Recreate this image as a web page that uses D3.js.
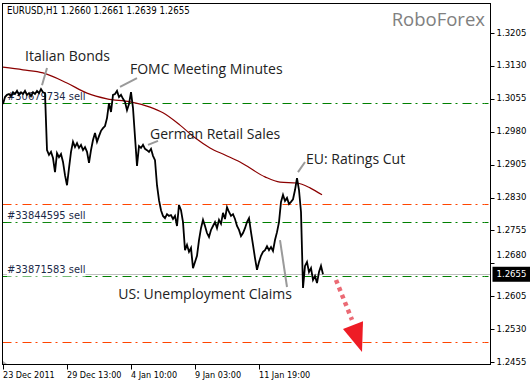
<!DOCTYPE html>
<html>
<head>
<meta charset="utf-8">
<style>
body{margin:0;background:#fff}
svg{display:block}
</style>
</head>
<body>
<div id="chart"></div>
<script src="https://cdn.jsdelivr.net/npm/d3@7"></script>
<script>

// EURUSD H1 closes, one value every 2 bars starting 23 Dec 2011
var closes = [
 1.3043,1.3059,1.3064,1.3066,1.3061,1.3070,1.3066,1.3073,1.3064,1.3070,
 1.3066,1.3073,1.3064,1.3068,1.3061,1.3070,1.3066,1.3073,1.3068,1.3077,
 1.3070,1.3068,1.2938,1.2927,1.2934,1.2920,1.2888,1.2931,1.2922,1.2929,
 1.2911,1.2881,1.2858,1.2897,1.2934,1.2957,1.2945,1.2954,1.2943,1.2950,
 1.2938,1.2945,1.2934,1.2909,1.2938,1.2961,1.2977,1.2957,1.2970,1.2982,
 1.2988,1.2993,1.3011,1.3045,1.3025,1.3064,1.3066,1.3073,1.3059,1.3064,
 1.3055,1.3048,1.3029,1.3043,1.3070,1.3034,1.2968,1.2902,1.2947,1.2943,
 1.2950,1.2941,1.2938,1.2934,1.2941,1.2925,1.2915,1.2858,1.2824,1.2801,
 1.2788,1.2783,1.2792,1.2788,1.2790,1.2781,1.2788,1.2765,1.2813,1.2801,
 1.2774,1.2710,1.2722,1.2706,1.2715,1.2669,1.2683,1.2697,1.2733,1.2760,
 1.2779,1.2765,1.2749,1.2740,1.2756,1.2765,1.2774,1.2760,1.2779,1.2770,
 1.2795,1.2781,1.2808,1.2797,1.2788,1.2792,1.2781,1.2765,1.2756,1.2742,
 1.2749,1.2760,1.2774,1.2783,1.2751,1.2722,1.2692,1.2665,1.2683,1.2697,
 1.2706,1.2710,1.2719,1.2710,1.2717,1.2708,1.2733,1.2751,1.2774,1.2820,
 1.2836,1.2822,1.2829,1.2815,1.2820,1.2826,1.2847,1.2874,1.2847,1.2797,
 1.2624,1.2674,1.2683,1.2660,1.2669,1.2642,1.2651,1.2635,1.2660,1.2674,
 1.2655
]
var closeStep = 2

// moving average (bar, value)
var maBars   = [0, 20, 40, 64, 84, 104, 127, 147, 160, 177, 192, 207, 222, 237, 262, 277, 294, 307, 319]
var maValues = [1.3127, 1.3121, 1.3114, 1.3091, 1.3068, 1.3055, 1.3048, 1.3036, 1.3023, 1.2995,
                1.2966, 1.2943, 1.2927, 1.2911, 1.2877, 1.2865, 1.2863, 1.2852, 1.2836]

var priceTicks = [1.3205, 1.3130, 1.3055, 1.2980, 1.2905, 1.2830, 1.2755, 1.2680, 1.2605, 1.2530, 1.2455]
var timeBars = [0, 64, 128, 192, 256]
var timeLabels = ["23 Dec 2011", "29 Dec 13:00", "4 Jan 10:00", "9 Jan 03:00", "11 Jan 19:00"]

// order levels
var levelPrices = [1.3046, 1.2815, 1.2774, 1.2650, 1.2500]
var levelKinds  = ["sell", "stop", "sell", "sell", "stop"]
var levelLabels = ["#30679734 sell", "", "#33844595 sell", "#33871583 sell", ""]
var lastPrice = 1.2655
var header = "EURUSD,H1  1.2660 1.2661 1.2639 1.2655"

// news annotations: text anchor and pointer line
var newsText   = ["Italian Bonds", "FOMC Meeting Minutes", "German Retail Sales", "EU: Ratings Cut", "US: Unemployment Claims"]
var newsAnchor = ["start", "start", "start", "start", "end"]
var newsBar    = [22, 127, 147, 303, 289]
var newsPrice  = [1.3150, 1.3121, 1.2972, 1.2915, 1.2608]
var ptrBar0    = [39, 117, 145, 295, 277]
var ptrPrice0  = [1.3086, 1.3082, 1.2950, 1.2888, 1.2733]
var ptrBar1    = [44, 134, 155, 302, 284]
var ptrPrice1  = [1.3125, 1.3102, 1.2959, 1.2911, 1.2626]

// forecast arrow
var arrowBars = [333, 349]
var arrowPrices = [1.2642, 1.2551]
var headBars = [340, 360, 359]
var headPrices = [1.2530, 1.2548, 1.2478]

var W = 530, H = 383
var frame = {left: 2.5, top: 3.5, right: 490.5, bottom: 364.5}
var axisFont = "'DejaVu Sans Condensed', 'Liberation Sans', sans-serif"
var noteFont = "'Open Sans', sans-serif"

var svg = d3.select("#chart").append("svg")
    .attr("width", W).attr("height", H)
    .style("background", "#fff")

var x = d3.scaleLinear().domain([0, 487]).range([3, 490])
var y = d3.scaleLinear().domain([1.2455, 1.3205]).range([362, 33])

var levelColor = function(k){ return k == "sell" ? "#008000" : "#ff4500" }

// current price line
svg.append("line")
    .attr("x1", frame.left).attr("x2", frame.right)
    .attr("y1", Math.round(y(lastPrice)) + 0.5).attr("y2", Math.round(y(lastPrice)) + 0.5)
    .attr("stroke", "#c0c0c0").attr("stroke-width", 1)

// level lines
svg.append("g").selectAll("line")
    .data(levelPrices).enter().append("line")
    .attr("x1", frame.left).attr("x2", frame.right - 6)
    .attr("y1", d => Math.round(y(d)) + 0.5).attr("y2", d => Math.round(y(d)) + 0.5)
    .attr("stroke", (d, i) => levelColor(levelKinds[i]))
    .attr("stroke-width", 1)
    .attr("stroke-dasharray", "9,4,2,5")

// small marks at right edge
svg.append("g").selectAll("line")
    .data(levelPrices).enter().append("line")
    .attr("x1", frame.right - 6).attr("x2", frame.right - 2)
    .attr("y1", d => Math.round(y(d)) + 0.5).attr("y2", d => Math.round(y(d)) + 0.5)
    .attr("stroke", (d, i) => levelColor(levelKinds[i]))
    .attr("stroke-width", 1)

// level labels with white background
var lab = svg.append("g").selectAll("g")
    .data(levelPrices).enter().append("g")
    .filter((d, i) => levelLabels[i] != "")
lab.each(function(d){
    var i = levelPrices.indexOf(d)
    var g = d3.select(this)
    var t = g.append("text")
        .attr("x", 7).attr("y", y(d) - 6)
        .attr("dominant-baseline", "middle")
        .attr("font-family", axisFont).attr("font-size", "11px")
        .attr("fill", "#1c2a48")
        .text(levelLabels[i])
    var b = t.node().getBBox()
    g.insert("rect", "text")
        .attr("x", b.x).attr("y", b.y).attr("width", b.width).attr("height", b.height)
        .attr("fill", "#fff")
})

// moving average
var maLine = d3.line()
    .x((d, i) => x(maBars[i]))
    .y(d => y(d))
    .curve(d3.curveMonotoneX)
svg.append("path").datum(maValues)
    .attr("d", maLine)
    .attr("fill", "none").attr("stroke", "#8b0000").attr("stroke-width", 1.2)

// price
var priceLine = d3.line()
    .x((d, i) => x(i * closeStep))
    .y(d => y(d))
svg.append("path").datum(closes)
    .attr("d", priceLine)
    .attr("fill", "none").attr("stroke", "#000").attr("stroke-width", 1.8)
    .attr("stroke-linejoin", "miter")

// news pointers and text
svg.append("g").selectAll("line")
    .data(newsText).enter().append("line")
    .attr("x1", (d, i) => x(ptrBar0[i])).attr("y1", (d, i) => y(ptrPrice0[i]))
    .attr("x2", (d, i) => x(ptrBar1[i])).attr("y2", (d, i) => y(ptrPrice1[i]))
    .attr("stroke", "#9a9a9a").attr("stroke-width", 2)

svg.append("g").selectAll("text")
    .data(newsText).enter().append("text")
    .attr("x", (d, i) => x(newsBar[i])).attr("y", (d, i) => y(newsPrice[i]))
    .attr("text-anchor", (d, i) => newsAnchor[i])
    .attr("dominant-baseline", "middle")
    .attr("font-family", noteFont).attr("font-size", "14px")
    .attr("fill", "#222")
    .text(d => d)

// forecast arrow
svg.append("line")
    .attr("x1", x(arrowBars[0])).attr("y1", y(arrowPrices[0]))
    .attr("x2", x(arrowBars[1])).attr("y2", y(arrowPrices[1]))
    .attr("stroke", "#e8505c").attr("stroke-opacity", 0.85)
    .attr("stroke-width", 4.5).attr("stroke-dasharray", "4,4")
svg.append("polygon")
    .attr("points", headBars.map((b, i) => x(b) + "," + y(headPrices[i])).join(" "))
    .attr("fill", "#ee1c25")

// frame
svg.append("rect")
    .attr("x", frame.left).attr("y", frame.top)
    .attr("width", frame.right - frame.left).attr("height", frame.bottom - frame.top)
    .attr("fill", "none").attr("stroke", "#000").attr("stroke-width", 1)

svg.append("polygon")
    .attr("points", [[3, 361], [3, 364], [7, 364]].join(" "))
    .attr("fill", "#aaa")

// right price axis
var ya = svg.append("g").selectAll("g")
    .data(priceTicks).enter().append("g")
ya.append("line")
    .attr("x1", frame.right).attr("x2", frame.right + 4)
    .attr("y1", d => Math.round(y(d)) + 0.5).attr("y2", d => Math.round(y(d)) + 0.5)
    .attr("stroke", "#000")
ya.append("text")
    .attr("x", frame.right + 6)
    .attr("y", d => y(d) - (Math.abs(d - lastPrice) < 0.003 ? 8 : 0))
    .attr("dominant-baseline", "middle")
    .attr("font-family", axisFont).attr("font-size", "9.5px")
    .attr("fill", "#000")
    .text(d => d3.format(".4f")(d))

// last price tag
svg.append("rect")
    .attr("x", frame.right + 2).attr("y", y(lastPrice) - 7.5)
    .attr("width", 38).attr("height", 15)
    .attr("fill", "#000")
svg.append("text")
    .attr("x", frame.right + 6).attr("y", y(lastPrice))
    .attr("dominant-baseline", "middle")
    .attr("font-family", axisFont).attr("font-size", "9.5px")
    .attr("fill", "#fff")
    .text(d3.format(".4f")(lastPrice))

// bottom time axis
var xa = svg.append("g").selectAll("g")
    .data(timeBars).enter().append("g")
xa.append("line")
    .attr("x1", d => Math.round(x(d)) + 0.5).attr("x2", d => Math.round(x(d)) + 0.5)
    .attr("y1", frame.bottom).attr("y2", frame.bottom + 5)
    .attr("stroke", "#000")
xa.append("text")
    .attr("x", d => x(d))
    .attr("y", 375)
    .attr("dominant-baseline", "middle")
    .attr("font-family", axisFont).attr("font-size", "9px")
    .attr("fill", "#000")
    .text((d, i) => timeLabels[i])

// header and watermark
svg.append("text")
    .attr("x", 7).attr("y", 11)
    .attr("dominant-baseline", "middle")
    .attr("font-family", axisFont).attr("font-size", "9.6px")
    .attr("fill", "#000")
    .text(header)

svg.append("text")
    .attr("x", 485).attr("y", 21)
    .attr("text-anchor", "end").attr("dominant-baseline", "middle")
    .attr("font-family", noteFont).attr("font-size", "18.5px")
    .attr("fill", "#808080")
    .text("RoboForex")

</script>
</body>
</html>
